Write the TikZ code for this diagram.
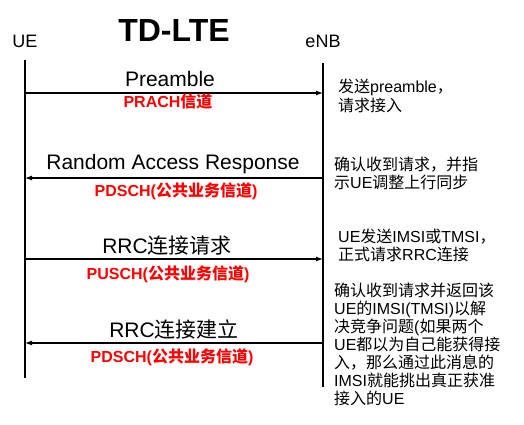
\documentclass[tikz,border=0pt]{standalone}
\usepackage{fontspec}
\setmainfont{Liberation Sans}
\newfontfamily\cjk{Noto Sans CJK SC}
\usetikzlibrary{arrows.meta}
\newcommand{\zh}[1]{{\cjk #1}}

\begin{document}
\begin{tikzpicture}[x=1pt, y=-1pt,
    actor/.style={anchor=base, inner sep=0pt, font=\fontsize{18}{20}\selectfont},
    msg/.style={anchor=base, inner sep=0pt, font=\fontsize{21}{24}\selectfont},
    chan/.style={anchor=base, inner sep=0pt, text=red, font=\bfseries\fontsize{16}{18}\selectfont},
    note/.style={anchor=base west, inner sep=0pt, align=left, font=\fontsize{16}{18}\selectfont},
    life/.style={line width=1.2pt},
    arrow/.style={-{Latex[length=7pt,width=5pt]}, line width=1.1pt}
]
\useasboundingbox (0,0) rectangle (524,425);
\node[anchor=base, inner sep=0pt, font=\bfseries\fontsize{32}{36}\selectfont] (title) at (174,42) {TD-LTE};
\node[actor] (ue) at (25,48) {UE};
\node[actor] (enb) at (323,48) {eNB};

% lifelines
\coordinate (ue-top) at (25,60);
\coordinate (ue-bot) at (25,378);
\coordinate (enb-top) at (323,63);
\coordinate (enb-bot) at (323,387);
\draw[life] (ue-top) -- (ue-bot);
\draw[life] (enb-top) -- (enb-bot);

% messages
\coordinate (ue1) at (25,93);   \coordinate (enb1) at (323,93);
\coordinate (ue2) at (25,178);  \coordinate (enb2) at (323,178);
\coordinate (ue3) at (25,259);  \coordinate (enb3) at (323,259);
\coordinate (ue4) at (25,343);  \coordinate (enb4) at (323,343);
\draw[arrow] (ue1) -- (enb1);
\draw[arrow] (enb2) -- (ue2);
\draw[arrow] (ue3) -- (enb3);
\draw[arrow] (enb4) -- (ue4);

\node[msg] (m1) at (170,87) {Preamble};
\node[chan] (c1) at (168,108) {PRACH\zh{信道}};
\node[msg] (m2) at (173,169) {Random Access Response};
\node[chan] (c2) at (176,196) {PDSCH(\zh{公共业务信道})};
\node[msg] (m3) at (167,253) {RRC\zh{连接请求}};
\node[chan] (c3) at (168,279) {PUSCH(\zh{公共业务信道})};
\node[msg] (m4) at (174,337) {RRC\zh{连接建立}};
\node[chan] (c4) at (172,362) {PDSCH(\zh{公共业务信道})};

% notes at eNB side (anchored at last line)
\node[note] (n1) at (338,111) {\zh{发送}preamble\zh{，}\\\zh{请求接入}};
\node[note] (n2) at (334,188) {\zh{确认收到请求，并指}\\\zh{示}UE\zh{调整上行同步}};
\node[note] (n3) at (338,260) {UE\zh{发送}IMSI\zh{或}TMSI\zh{，}\\\zh{正式请求}RRC\zh{连接}};
\node[note] (n4) at (334,404) {\zh{确认收到请求并返回该}\\UE\zh{的}IMSI(TMSI)\zh{以解}\\\zh{决竞争问题}(\zh{如果两个}\\UE\zh{都以为自己能获得接}\\\zh{入，那么通过此消息的}\\IMSI\zh{就能挑出真正获准}\\\zh{接入的}UE};
\end{tikzpicture}
\end{document}
